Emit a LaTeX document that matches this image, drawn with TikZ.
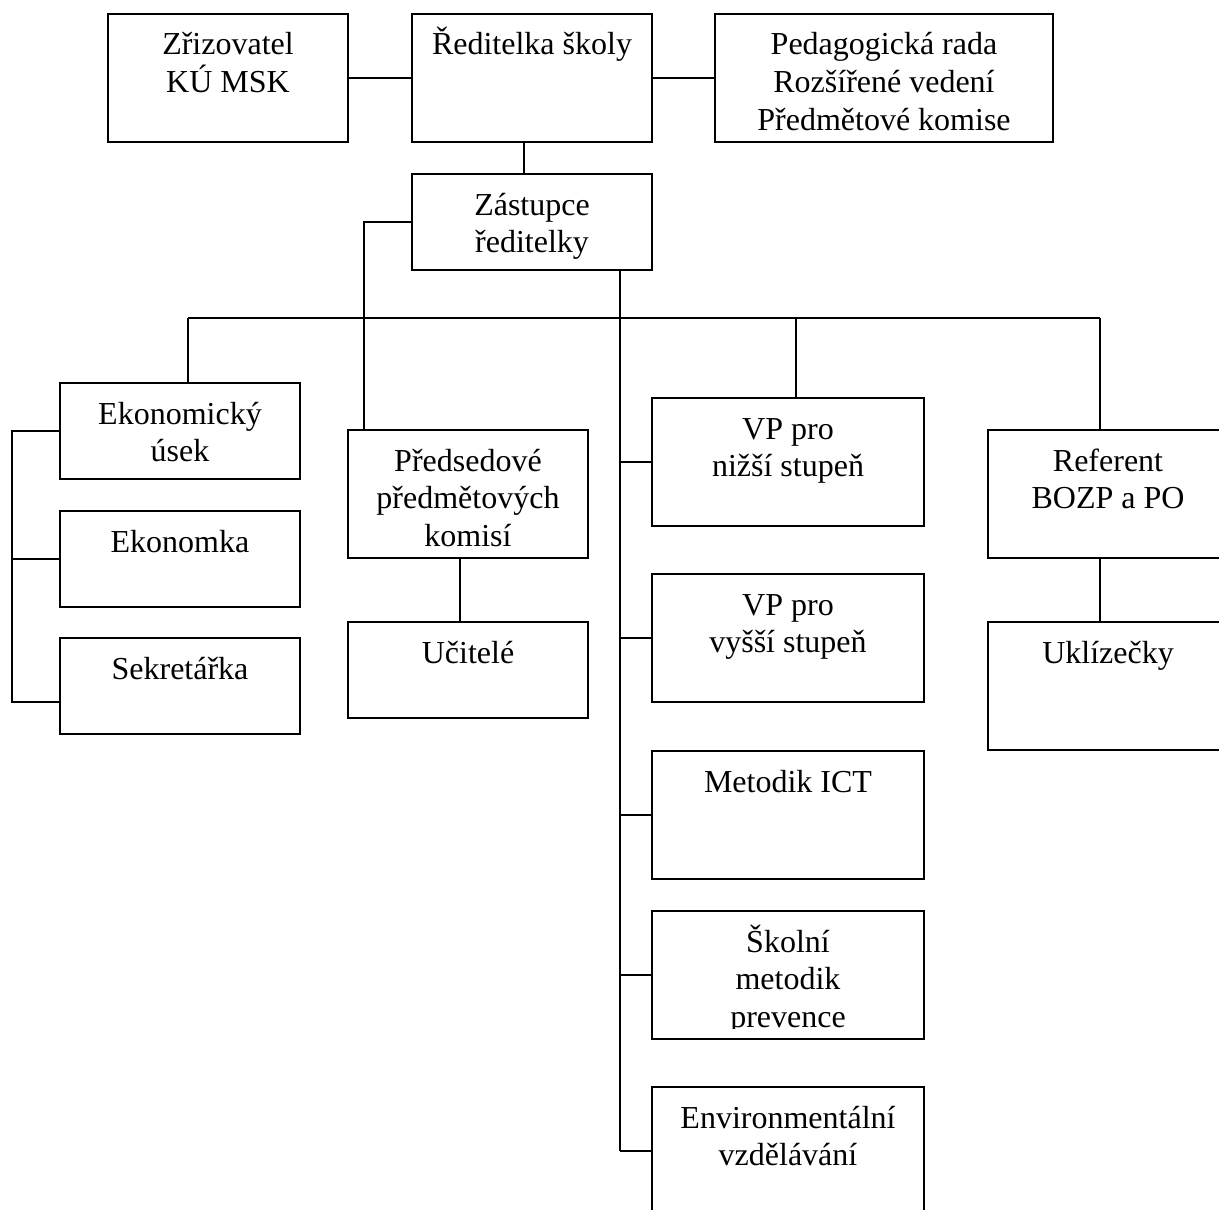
\documentclass[tikz,border=0pt]{standalone}
\usepackage{fontspec}
\setmainfont{Liberation Serif}
\usepackage{tikz}

\tikzset{
  box/.style={draw, line width=1pt, anchor=north west, inner sep=0pt, outer sep=0pt,
    align=center, minimum width=120pt, font=\fontsize{16}{18.8}\selectfont},
  % box height 64pt, first baseline 20.5pt below the top
  tallA/.style={text height=20.5pt, text depth=43.5pt},
  tallB/.style={text height=39.3pt, text depth=24.7pt},
  tallC/.style={text height=58.1pt, text depth=5.9pt},
  % box height 48pt
  lowA/.style={text height=20.5pt, text depth=27.5pt},
  lowB/.style={text height=39.3pt, text depth=8.7pt},
  wide/.style={minimum width=136pt},
  link/.style={line width=1pt},
}

\begin{document}
\begin{tikzpicture}[x=0.5pt,y=-0.5pt]
  \useasboundingbox (0,0) rectangle (1219,1209);
  \clip (0,0) rectangle (1219,1209);
  % top row
  \node[box,tallB] (zriz) at (108,14) {Zřizovatel\\KÚ MSK};
  \node[box,tallA] (red) at (412,14) {Ředitelka školy};
  \node[box,tallC,minimum width=169pt] (ped) at (715,14) {Pedagogická rada\\Rozšířené vedení\\Předmětové komise};
  \node[box,lowB] (zast) at (412,174) {Zástupce\\ředitelky};
  % left column
  \node[box,lowB] (eko) at (60,383) {Ekonomický\\úsek};
  \node[box,lowA] (ekm) at (60,511) {Ekonomka};
  \node[box,lowA] (sek) at (60,638) {Sekretářka};
  \node[box,tallC] (pred) at (348,430) {Předsedové\\předmětových\\komisí};
  \node[box,lowA] (uc) at (348,622) {Učitelé};
  % middle column
  \node[box,tallB,wide] (vpn) at (652,398) {VP pro\\nižší stupeň};
  \node[box,tallB,wide] (vpv) at (652,574) {VP pro\\vyšší stupeň};
  \node[box,tallA,wide] (ict) at (652,751) {Metodik ICT};
  \node[box,tallC,wide] (skol) at (652,911) {Školní\\metodik\\prevence};
  % last line of the frame is cut off at the bottom
  \fill[white] ([xshift=0.5pt,yshift=0.5pt]skol.south west) rectangle ([xshift=-0.5pt,yshift=5pt]skol.south east);
  \node[box,tallB,wide] (env) at (652,1087) {Environmentální\\vzdělávání};
  % right column
  \node[box,tallB] (ref) at (988,430) {Referent\\BOZP a PO};
  \node[box,tallA] (ukl) at (988,622) {Uklízečky};

  \coordinate (redk) at (524,0);
  \coordinate (predk) at (364,0);
  \coordinate (uck) at (460,0);
  \coordinate (trunk) at (620,0);
  \coordinate (busL) at (188,318);
  \coordinate (busV) at (796,318);
  \coordinate (busR) at (1100,318);
  \coordinate (brk) at (12,0);
  \coordinate (sekk) at (60,702);

  \draw[link] (zriz.east) -- (red.west);
  \draw[link] (red.east) -- (ped.west);
  \draw[link] (redk |- red.south) -- (redk |- zast.north);
  \draw[link] (zast.west) -| (predk |- pred.north);
  \draw[link] (uck |- pred.south) -- (uck |- uc.north);
  \draw[link] (trunk |- zast.south) -- (trunk |- env.west);
  \foreach \n in {vpn,vpv,ict,skol,env}
    \draw[link] (trunk |- \n.west) -- (\n.west);
  \draw[link] (busL) -- (busR);
  \draw[link] (busL) -- (busL |- eko.north);
  \draw[link] (busV) -- (busV |- vpn.north);
  \draw[link] (busR) -- (busR |- ref.north);
  \draw[link] (busR |- ref.south) -- (busR |- ukl.north);
  \draw[link] (eko.west) -| (brk |- sekk) -- (sekk);
  \draw[link] (ekm.west) -- (brk |- ekm.west);
\end{tikzpicture}
\end{document}
